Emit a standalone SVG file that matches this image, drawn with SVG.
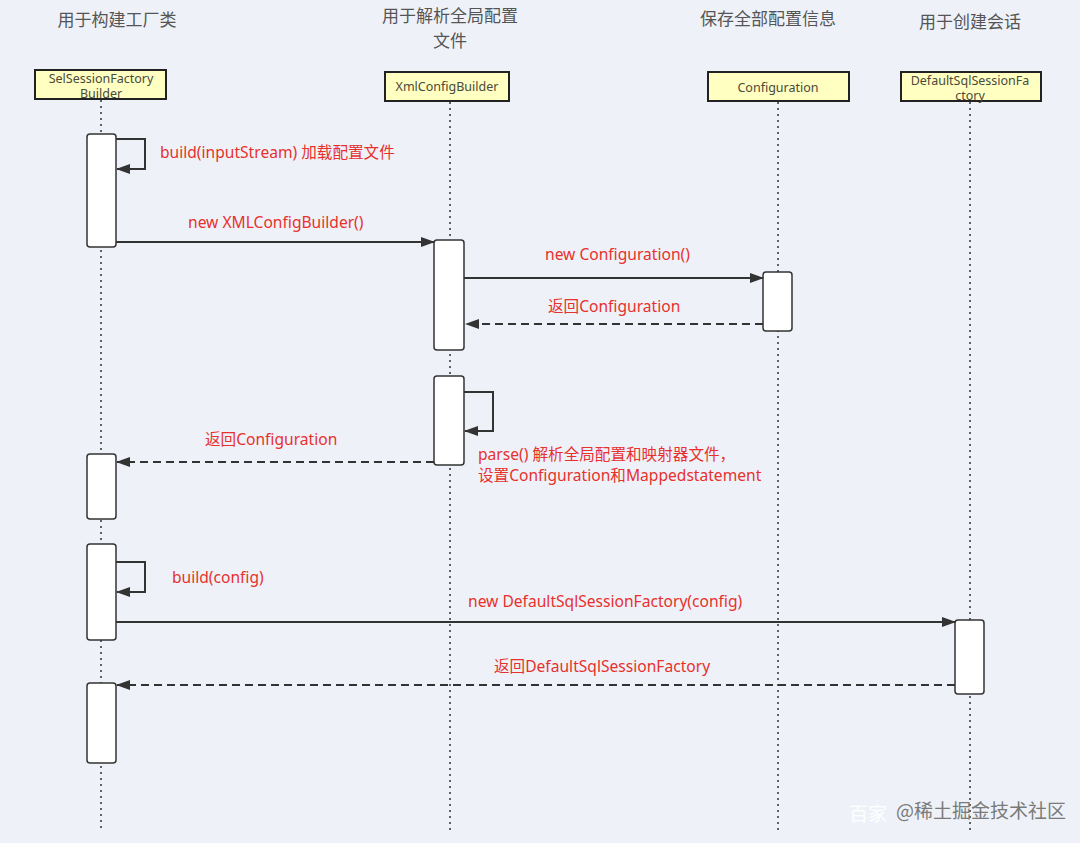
<svg xmlns="http://www.w3.org/2000/svg" width="1080" height="843" viewBox="0 0 1080 843">
<defs>
<style>
.hdr{font-family:"Noto Sans CJK SC","Noto Sans",sans-serif;font-size:17px;fill:#555;text-anchor:middle}
.box{fill:#ffffc2;stroke:#222;stroke-width:2}
.btxt{font-family:"Noto Sans","Noto Sans CJK SC",sans-serif;font-size:12.5px;fill:#4a4a3a;text-anchor:middle}
.life{stroke:#333;stroke-width:1.5;stroke-dasharray:2 4;fill:none}
.act{fill:#fff;stroke:#333;stroke-width:1.5}
.msg{stroke:#333;stroke-width:2;fill:none}
.ret{stroke:#333;stroke-width:2;fill:none;stroke-dasharray:8 5}
.lbl{font-family:"Noto Sans","Noto Sans CJK SC",sans-serif;font-size:15.6px;fill:#e8302c}
.wm{font-family:"Noto Sans CJK SC",sans-serif;font-size:19px}
</style>
<marker id="ah" markerWidth="14" markerHeight="10" refX="13" refY="5" orient="auto" markerUnits="userSpaceOnUse">
<path d="M0,0 L14,5 L0,10 Z" fill="#333"/>
</marker>
</defs>
<rect width="1080" height="843" fill="#eef2f8"/>

<g id="headers">
<text class="hdr" x="117" y="26">用于构建工厂类</text>
<text class="hdr" x="450" y="22">用于解析全局配置</text>
<text class="hdr" x="450" y="47">文件</text>
<text class="hdr" x="768" y="25">保存全部配置信息</text>
<text class="hdr" x="970" y="28">用于创建会话</text>
</g>

<g id="lifelines">
<line class="life" x1="101" y1="100" x2="101" y2="832"/>
<line class="life" x1="450" y1="102" x2="450" y2="830"/>
<line class="life" x1="778" y1="102" x2="778" y2="830"/>
<line class="life" x1="970" y1="102" x2="970" y2="830"/>
</g>

<g id="node-selsessionfactorybuilder">
<rect class="box" x="35" y="70" width="131" height="29"/>
<text class="btxt" x="101" y="83">SelSessionFactory</text>
<text class="btxt" x="101" y="98">Builder</text>
</g>
<g id="node-xmlconfigbuilder">
<rect class="box" x="385" y="72" width="124" height="29"/>
<text class="btxt" x="447" y="91">XmlConfigBuilder</text>
</g>
<g id="node-configuration">
<rect class="box" x="708" y="72" width="141" height="29"/>
<text class="btxt" x="778" y="92">Configuration</text>
</g>
<g id="node-defaultsqlsessionfactory">
<rect class="box" x="901" y="72" width="140" height="29"/>
<text class="btxt" x="970" y="85">DefaultSqlSessionFa</text>
<text class="btxt" x="970" y="100">ctory</text>
</g>

<g id="activations">
<rect class="act" x="87" y="134" width="29" height="113" rx="3"/>
<rect class="act" x="434" y="240" width="30" height="110" rx="3"/>
<rect class="act" x="763" y="272" width="29" height="59" rx="3"/>
<rect class="act" x="434" y="376" width="30" height="89" rx="3"/>
<rect class="act" x="87" y="454" width="29" height="65" rx="3"/>
<rect class="act" x="87" y="544" width="29" height="96" rx="3"/>
<rect class="act" x="955" y="620" width="29" height="74" rx="3"/>
<rect class="act" x="87" y="683" width="29" height="80" rx="3"/>
</g>

<g id="connectors">
<path class="msg" d="M116,139 H145 V169 H117" marker-end="url(#ah)"/>
<line class="msg" x1="116" y1="242" x2="434" y2="242" marker-end="url(#ah)"/>
<line class="msg" x1="464" y1="278" x2="763" y2="278" marker-end="url(#ah)"/>
<line class="ret" x1="763" y1="324" x2="466" y2="324" marker-end="url(#ah)"/>
<path class="msg" d="M464,392 H493 V431 H465" marker-end="url(#ah)"/>
<line class="ret" x1="434" y1="462" x2="117" y2="462" marker-end="url(#ah)"/>
<path class="msg" d="M116,562 H145 V592 H117" marker-end="url(#ah)"/>
<line class="msg" x1="116" y1="622" x2="955" y2="622" marker-end="url(#ah)"/>
<line class="ret" x1="955" y1="685" x2="117" y2="685" marker-end="url(#ah)"/>
</g>

<g id="labels">
<text class="lbl" x="160" y="158">build(inputStream) 加载配置文件</text>
<text class="lbl" x="188" y="228">new XMLConfigBuilder()</text>
<text class="lbl" x="545" y="260">new Configuration()</text>
<text class="lbl" x="548" y="312">返回Configuration</text>
<text class="lbl" x="205" y="445">返回Configuration</text>
<text class="lbl" x="478" y="460">parse() 解析全局配置和映射器文件，</text>
<text class="lbl" x="478" y="481">设置Configuration和Mappedstatement</text>
<text class="lbl" x="172" y="583">build(config)</text>
<text class="lbl" x="468" y="607">new DefaultSqlSessionFactory(config)</text>
<text class="lbl" x="494" y="672">返回DefaultSqlSessionFactory</text>
</g>

<g id="watermark">
<text class="wm" x="849" y="821" fill="#ffffff">百家</text>
<text class="wm" x="896" y="818" fill="#7a7a7a">@稀土掘金技术社区</text>
</g>
</svg>
